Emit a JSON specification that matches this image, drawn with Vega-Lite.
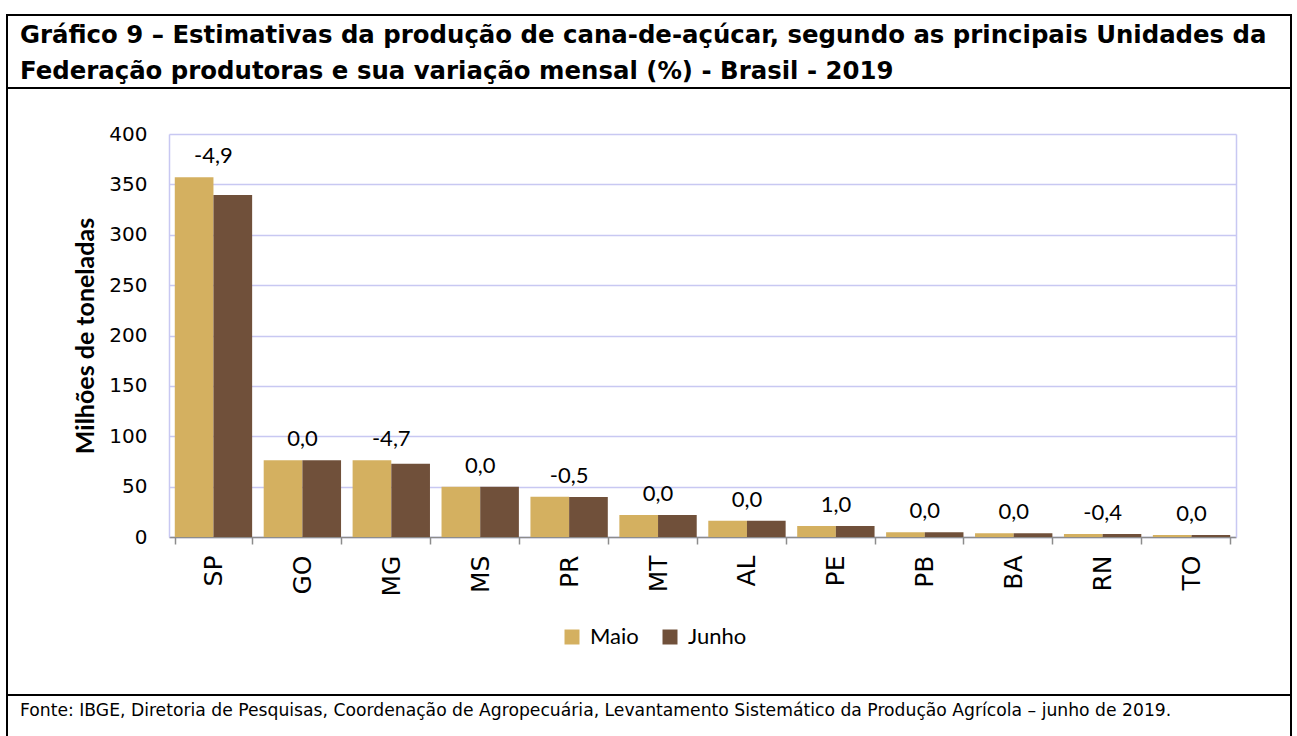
{
  "$schema": "https://vega.github.io/schema/vega-lite/v6.json",
  "background": "white",
  "padding": {"left": -6, "top": 14, "right": 4, "bottom": -3},
  "spacing": 0,
  "bounds": "flush",
  "datasets": {
    "dados": [
      {"uf": "SP", "mes": "Maio", "valor": 357.0, "variacao": "-4,9"},
      {"uf": "SP", "mes": "Junho", "valor": 339.5, "variacao": "-4,9"},
      {"uf": "GO", "mes": "Maio", "valor": 76.1, "variacao": "0,0"},
      {"uf": "GO", "mes": "Junho", "valor": 76.1, "variacao": "0,0"},
      {"uf": "MG", "mes": "Maio", "valor": 76.3, "variacao": "-4,7"},
      {"uf": "MG", "mes": "Junho", "valor": 72.7, "variacao": "-4,7"},
      {"uf": "MS", "mes": "Maio", "valor": 50.0, "variacao": "0,0"},
      {"uf": "MS", "mes": "Junho", "valor": 50.0, "variacao": "0,0"},
      {"uf": "PR", "mes": "Maio", "valor": 39.9, "variacao": "-0,5"},
      {"uf": "PR", "mes": "Junho", "valor": 39.7, "variacao": "-0,5"},
      {"uf": "MT", "mes": "Maio", "valor": 21.8, "variacao": "0,0"},
      {"uf": "MT", "mes": "Junho", "valor": 21.8, "variacao": "0,0"},
      {"uf": "AL", "mes": "Maio", "valor": 16.2, "variacao": "0,0"},
      {"uf": "AL", "mes": "Junho", "valor": 16.2, "variacao": "0,0"},
      {"uf": "PE", "mes": "Maio", "valor": 10.9, "variacao": "1,0"},
      {"uf": "PE", "mes": "Junho", "valor": 11.0, "variacao": "1,0"},
      {"uf": "PB", "mes": "Maio", "valor": 4.8, "variacao": "0,0"},
      {"uf": "PB", "mes": "Junho", "valor": 4.8, "variacao": "0,0"},
      {"uf": "BA", "mes": "Maio", "valor": 3.8, "variacao": "0,0"},
      {"uf": "BA", "mes": "Junho", "valor": 3.8, "variacao": "0,0"},
      {"uf": "RN", "mes": "Maio", "valor": 3.0, "variacao": "-0,4"},
      {"uf": "RN", "mes": "Junho", "valor": 3.0, "variacao": "-0,4"},
      {"uf": "TO", "mes": "Maio", "valor": 2.1, "variacao": "0,0"},
      {"uf": "TO", "mes": "Junho", "valor": 2.1, "variacao": "0,0"}
    ]
  },
  "vconcat": [
    {
      "width": 1284,
      "height": 73,
      "data": {
        "values": [
          {"linha": 1, "texto": "Gráfico 9 – Estimativas da produção de cana-de-açúcar, segundo as principais Unidades da"},
          {"linha": 2, "texto": "Federação produtoras e sua variação mensal (%) - Brasil - 2019"}
        ]
      },
      "mark": {"type": "text", "align": "left", "baseline": "middle", "font": "DejaVu Sans", "fontSize": 24.4, "fontWeight": "bold", "color": "#000000"},
      "encoding": {
        "x": {"value": 13},
        "y": {"field": "linha", "type": "ordinal", "axis": null, "scale": {"type": "point", "range": [21, 57], "padding": 0}},
        "text": {"field": "texto"}
      }
    },
    {
      "width": 1284,
      "height": 607,
      "data": {"name": "dados"},
      "layer": [
        {
          "mark": {"type": "bar"},
          "encoding": {
            "x": {
              "field": "uf",
              "type": "nominal",
              "sort": ["SP", "GO", "MG", "MS", "PR", "MT", "AL", "PE", "PB", "BA", "RN", "TO"],
              "scale": {"range": [162, 1229], "paddingInner": 0.13, "paddingOuter": 0.065},
              "axis": {
                "orient": "bottom",
                "offset": -158,
                "title": null,
                "labelAngle": 270,
                "labelFont": "DejaVu Sans",
                "labelFontSize": 25,
                "labelColor": "#000000",
                "labelPadding": 11,
                "tickBand": "extent",
                "tickSize": 7,
                "tickColor": "#8c8c8c",
                "tickWidth": 1.5,
                "domainColor": "#8c8c8c",
                "domainWidth": 1.5,
                "grid": false
              }
            },
            "xOffset": {"field": "mes", "type": "nominal", "sort": ["Maio", "Junho"]},
            "y": {
              "field": "valor",
              "type": "quantitative",
              "scale": {"domain": [0, 400], "range": [449, 46], "nice": false},
              "axis": {
                "orient": "left",
                "offset": -162,
                "values": [0, 50, 100, 150, 200, 250, 300, 350, 400],
                "ticks": false,
                "domainColor": "#C8C8F2",
                "domainWidth": 1.5,
                "grid": true,
                "gridColor": "#C8C8F2",
                "gridWidth": 1.5,
                "labelFont": "DejaVu Sans",
                "labelFontSize": 20,
                "labelColor": "#000000",
                "labelPadding": 22,
                "title": "Milhões de toneladas",
                "titleFont": "Lato",
                "titleFontSize": 25,
                "titleFontWeight": "bold",
                "titleColor": "#000000",
                "titlePadding": 10
              }
            },
            "color": {
              "field": "mes",
              "type": "nominal",
              "sort": ["Maio", "Junho"],
              "scale": {"domain": ["Maio", "Junho"], "range": ["#D4B060", "#70503A"]},
              "legend": {
                "orient": "none",
                "legendX": 554,
                "legendY": 538,
                "direction": "horizontal",
                "title": null,
                "symbolType": "square",
                "symbolSize": 225,
                "symbolStrokeWidth": 0,
                "labelFont": "Lato",
                "labelFontSize": 22,
                "labelColor": "#000000",
                "labelOffset": 7,
                "columnPadding": 20,
                "padding": 0
              }
            }
          }
        },
        {
          "transform": [
            {"aggregate": [{"op": "max", "field": "valor", "as": "topo"}], "groupby": ["uf", "variacao"]}
          ],
          "mark": {"type": "text", "font": "Lato", "fontSize": 22, "dy": -14, "baseline": "alphabetic", "color": "#000000"},
          "encoding": {
            "x": {
              "field": "uf",
              "type": "nominal",
              "sort": ["SP", "GO", "MG", "MS", "PR", "MT", "AL", "PE", "PB", "BA", "RN", "TO"]
            },
            "y": {
              "field": "topo",
              "type": "quantitative",
              "scale": {"domain": [0, 400], "nice": false},
              "axis": {
                "orient": "right",
                "offset": -55,
                "labels": false,
                "ticks": false,
                "grid": false,
                "title": null,
                "domainColor": "#C8C8F2",
                "domainWidth": 1.5
              }
            },
            "text": {"field": "variacao"}
          }
        }
      ],
      "resolve": {"axis": {"y": "independent"}}
    },
    {
      "width": 1284,
      "height": 44,
      "data": {
        "values": [
          {"texto": "Fonte: IBGE, Diretoria de Pesquisas, Coordenação de Agropecuária, Levantamento Sistemático da Produção Agrícola – junho de 2019."}
        ]
      },
      "mark": {"type": "text", "align": "left", "baseline": "middle", "font": "DejaVu Sans", "fontSize": 17.2, "color": "#000000"},
      "encoding": {
        "x": {"value": 13},
        "y": {"value": 16},
        "text": {"field": "texto"}
      }
    }
  ],
  "resolve": {"scale": {"color": "independent"}, "legend": {"color": "independent"}},
  "config": {
    "view": {"stroke": "#000000", "strokeWidth": 2}
  }
}
